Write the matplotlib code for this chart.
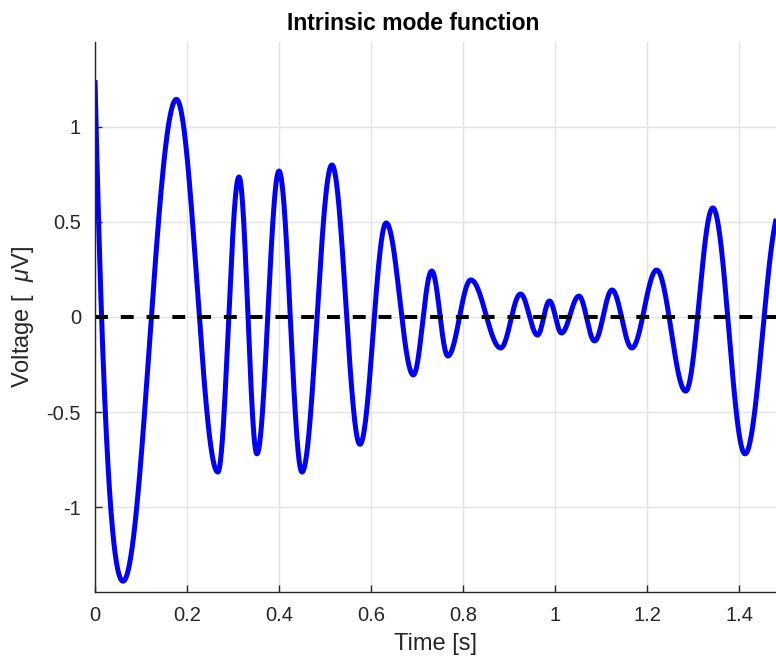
import numpy as np
import matplotlib
matplotlib.use("Agg")
import matplotlib.pyplot as plt

# Extrema of the IMF (time [s], voltage [uV])
start_time = 0.0
start_value = 1.247
start_slope = -105.0
peak_times = [0.061, 0.177, 0.267, 0.313, 0.352, 0.400, 0.450, 0.515, 0.576,
              0.633, 0.692, 0.732, 0.767, 0.817, 0.882, 0.925, 0.962, 0.988,
              1.014, 1.052, 1.086, 1.124, 1.167, 1.221, 1.284, 1.343, 1.413,
              1.490]
peak_values = [-1.39, 1.145, -0.816, 0.737, -0.72, 0.768, -0.816, 0.80, -0.67,
               0.495, -0.305, 0.242, -0.205, 0.195, -0.163, 0.121, -0.095, 0.084,
               -0.084, 0.11, -0.126, 0.142, -0.163, 0.247, -0.39, 0.574, -0.72,
               0.56]

x_ticks = [0, 0.2, 0.4, 0.6, 0.8, 1.0, 1.2, 1.4]
x_tick_labels = ["0", "0.2", "0.4", "0.6", "0.8", "1", "1.2", "1.4"]
y_ticks = [-1, -0.5, 0, 0.5, 1]
y_tick_labels = ["-1", "-0.5", "0", "0.5", "1"]


def build_curve():
    # first piece: cubic hermite from the start value down to the first minimum
    t0, t1 = start_time, peak_times[0]
    u = np.linspace(0, 1, 200)
    h00 = 2 * u**3 - 3 * u**2 + 1
    h10 = u**3 - 2 * u**2 + u
    h01 = -2 * u**3 + 3 * u**2
    ts = [t0 + u * (t1 - t0)]
    vs = [h00 * start_value + h10 * (t1 - t0) * start_slope + h01 * peak_values[0]]
    # half-cosine between successive extrema
    for i in range(len(peak_times) - 1):
        a, b = peak_times[i], peak_times[i + 1]
        va, vb = peak_values[i], peak_values[i + 1]
        u = np.linspace(0, 1, 120)[1:]
        ts.append(a + u * (b - a))
        vs.append(va + (vb - va) * (1 - np.cos(np.pi * u)) / 2)
    return np.concatenate(ts), np.concatenate(vs)


def main():
    plt.rcParams["font.family"] = ["Liberation Sans", "DejaVu Sans"]
    plt.rcParams["mathtext.fontset"] = "custom"
    plt.rcParams["mathtext.it"] = "Liberation Sans:italic"
    plt.rcParams["mathtext.rm"] = "Liberation Sans"

    t, v = build_curve()

    fig = plt.figure(figsize=(7.76, 6.59), dpi=100)
    ax = fig.add_axes([95 / 776, 67 / 659, 681 / 776, 550 / 659])

    ax.plot(t, v, color="#0000ff", linewidth=3.6, solid_capstyle="butt")
    ax.axhline(0, color="black", linewidth=2.9, dashes=(3.2, 3.2))

    ax.set_xlim(0, 1.4804)
    ax.set_ylim(-1.447, 1.447)
    ax.set_xticks(x_ticks)
    ax.set_xticklabels(x_tick_labels)
    ax.set_yticks(y_ticks)
    ax.set_yticklabels(y_tick_labels)

    ax.grid(True, color="#e3e3e3", linewidth=1.0)
    ax.set_axisbelow(True)
    for side in ["top", "right"]:
        ax.spines[side].set_visible(False)
    for side in ["left", "bottom"]:
        ax.spines[side].set_color("#262626")
        ax.spines[side].set_linewidth(1.0)
    ax.tick_params(direction="in", length=5, width=1.0, color="#262626",
                   labelsize=14.5, labelcolor="#262626", pad=10)

    ax.set_xlabel("Time [s]", fontsize=17, color="#262626", labelpad=6)
    ax.set_ylabel("Voltage [  $\\mu$V]", fontsize=17, color="#262626", labelpad=8)
    fig.text(413 / 776, 1 - 23 / 659, "Intrinsic mode function", ha="center",
             va="center", fontsize=16.5, fontweight="bold")

    fig.savefig("out.png", dpi=100)
    plt.close(fig)


if __name__ == "__main__":
    main()
